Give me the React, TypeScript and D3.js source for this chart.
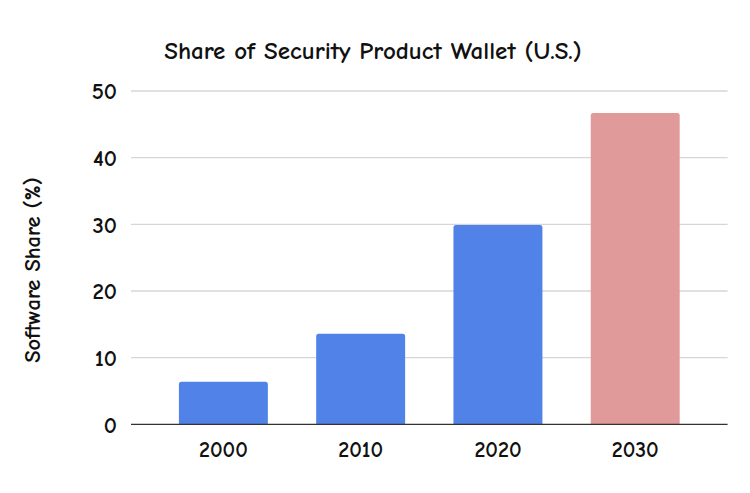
import React from "react";
import * as d3 from "d3";

const years = ["2000", "2010", "2020", "2030"];
const shares = [6.4, 13.6, 29.9, 46.7];
const barColors = ["#5082e8", "#5082e8", "#5082e8", "#e09a99"];
const yTicks = [0, 10, 20, 30, 40, 50];

const W = 750;
const H = 493;
const FONT = "'Comic Sans MS', 'Comic Neue', 'Noto Sans', sans-serif";

export default function App() {
  const x = d3.scaleBand<string>().domain(years).range([131, 727.6]).paddingInner(0.352).paddingOuter(0.349);
  const y = d3.scaleLinear().domain([0, 50]).range([424.3, 91]);
  const r = 2.5;
  return (
    <svg width={W} height={H} style={{ position: "absolute", left: 0, top: 0, background: "#fff" }} fontFamily={FONT}>
      <rect x={0} y={0} width={W} height={H} fill="#fff" />
      <text x={373} y={59} textAnchor="middle" fontSize={25} fontWeight={700} fill="#111">
        Share of Security Product Wallet (U.S.)
      </text>
      {yTicks.map((t) => (
        <g key={t}>
          {t !== 0 && <line x1={131} x2={727.6} y1={y(t)} y2={y(t)} stroke="#d6d6d6" strokeWidth={1.3} />}
          <text x={117} y={y(t)} dy="0.36em" textAnchor="end" fontSize={23} fontWeight={700} fill="#111">
            {t}
          </text>
        </g>
      ))}
      {years.map((yr, i) => {
        const x0 = x(yr)!;
        const w = x.bandwidth();
        const top = y(shares[i]);
        const bot = y(0);
        const d = `M${x0},${bot}V${top + r}Q${x0},${top} ${x0 + r},${top}H${x0 + w - r}Q${x0 + w},${top} ${x0 + w},${top + r}V${bot}Z`;
        return (
          <g key={yr}>
            <path d={d} fill={barColors[i]} />
            <text x={x0 + w / 2} y={457} textAnchor="middle" fontSize={22} fontWeight={700} fill="#111">
              {yr}
            </text>
          </g>
        );
      })}
      <line x1={131} x2={727.6} y1={y(0)} y2={y(0)} stroke="#333" strokeWidth={1.3} />
      <text transform={`translate(40,270) rotate(-90)`} textAnchor="middle" fontSize={22.5} fontWeight={700} fill="#111">
        Software Share (%)
      </text>
    </svg>
  );
}
